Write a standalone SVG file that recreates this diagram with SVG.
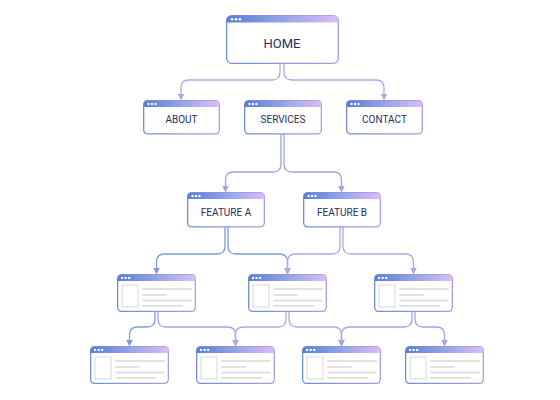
<svg xmlns="http://www.w3.org/2000/svg" xmlns:xlink="http://www.w3.org/1999/xlink" width="560" height="400" viewBox="0 0 560 400">
<style>
.lbl{font-family:Roboto,"Liberation Sans",sans-serif;font-size:10px;fill:#2b2e5c;text-anchor:middle}
.big{font-size:13px}
.box{fill:#fff;stroke:url(#bord);stroke-width:1.3}
.head{fill:url(#head)}
.dot{fill:#fff}
.img{fill:none;stroke:#dedede;stroke-width:1.2}
.ln{stroke:#e2e2e2;stroke-width:2;stroke-linecap:round}
.c{fill:none;stroke-width:1.3}
</style>
<defs>
<linearGradient id="bord" x1="0" y1="0" x2="1" y2="0">
<stop offset="0" stop-color="#6e8fd6"/><stop offset="1" stop-color="#ad9ce2"/>
</linearGradient>
<linearGradient id="head" x1="0" y1="0" x2="1" y2="0">
<stop offset="0" stop-color="#5a7dd6"/><stop offset="0.55" stop-color="#9ba7ea"/><stop offset="1" stop-color="#dcbcf2"/>
</linearGradient>
<marker id="aP" viewBox="0 0 7 7" markerWidth="7" markerHeight="7" refX="5.5" refY="3.5" orient="auto" markerUnits="userSpaceOnUse"><path d="M0 0 L7 3.5 L0 7 Z" fill="#b2a6e6"/></marker>
<marker id="aB" viewBox="0 0 7 7" markerWidth="7" markerHeight="7" refX="5.5" refY="3.5" orient="auto" markerUnits="userSpaceOnUse"><path d="M0 0 L7 3.5 L0 7 Z" fill="#7e9cdc"/></marker>
<marker id="aM" viewBox="0 0 7 7" markerWidth="7" markerHeight="7" refX="5.5" refY="3.5" orient="auto" markerUnits="userSpaceOnUse"><path d="M0 0 L7 3.5 L0 7 Z" fill="#9ea6e2"/></marker>
<g id="page-tpl">
<rect class="box" x="0.65" y="0.65" width="77.7" height="36.7" rx="4"/>
<path class="head" d="M0.65 7 V4.6 Q0.65 0.65 4.6 0.65 H74.4 Q78.35 0.65 78.35 4.6 V7 Z"/>
<circle class="dot" cx="5" cy="3.9" r="1.2"/><circle class="dot" cx="8.6" cy="3.9" r="1.2"/><circle class="dot" cx="12.2" cy="3.9" r="1.2"/>
<rect class="img" x="5" y="11" width="16" height="22"/>
<line class="ln" x1="26" y1="15" x2="74" y2="15"/>
<line class="ln" x1="26" y1="21" x2="49" y2="21"/>
<line class="ln" x1="26" y1="26.5" x2="74" y2="26.5"/>
<line class="ln" x1="26" y1="32" x2="65" y2="32"/>
</g>
</defs>
<rect width="560" height="400" fill="#fff"/>

<g id="connectors">
<path class="c" stroke="#b2a6e6" marker-end="url(#aP)" d="M280 63 V72 Q280 80 272 80 H189 Q181 80 181 88 V99"/>
<path class="c" stroke="#b2a6e6" marker-end="url(#aP)" d="M284 63 V72 Q284 80 292 80 H376 Q384 80 384 88 V99"/>
<path class="c" stroke="#9ea6e2" marker-end="url(#aM)" d="M281 134 V164 Q281 172 273 172 H233.5 Q225.5 172 225.5 180 V191"/>
<path class="c" stroke="#9ea6e2" marker-end="url(#aM)" d="M284 134 V164 Q284 172 292 172 H333.5 Q341.5 172 341.5 180 V191"/>
<path class="c" stroke="#7e9cdc" marker-end="url(#aB)" d="M225 227 V246 Q225 254 217 254 H164.5 Q156.5 254 156.5 262 V273"/>
<path class="c" stroke="#7e9cdc" marker-end="url(#aB)" d="M228 227 V246 Q228 254 236 254 H279.5 Q287.5 254 287.5 262 V273"/>
<path class="c" stroke="#b2a6e6" marker-end="url(#aP)" d="M340 227 V246 Q340 254 332 254 H295.5 Q287.5 254 287.5 262 V273"/>
<path class="c" stroke="#b2a6e6" marker-end="url(#aP)" d="M343 227 V246 Q343 254 351 254 H405.5 Q413.5 254 413.5 262 V273"/>
<path class="c" stroke="#7e9cdc" marker-end="url(#aB)" d="M155 312 V319 Q155 327 147 327 H137.5 Q129.5 327 129.5 335 V345"/>
<path class="c" stroke="#9ea6e2" marker-end="url(#aM)" d="M158 312 V319 Q158 327 166 327 H227.5 Q235.5 327 235.5 335 V345"/>
<path class="c" stroke="#b2a6e6" marker-end="url(#aP)" d="M286 312 V319 Q286 327 278 327 H243.5 Q235.5 327 235.5 335 V345"/>
<path class="c" stroke="#b2a6e6" marker-end="url(#aP)" d="M289 312 V319 Q289 327 297 327 H333.5 Q341.5 327 341.5 335 V345"/>
<path class="c" stroke="#9ea6e2" marker-end="url(#aM)" d="M412 312 V319 Q412 327 404 327 H349.5 Q341.5 327 341.5 335 V345"/>
<path class="c" stroke="#9ea6e2" marker-end="url(#aM)" d="M415 312 V319 Q415 327 423 327 H436.5 Q444.5 327 444.5 335 V345"/>
</g>

<g id="home">
<rect class="box" x="226.65" y="15.65" width="111.7" height="47.7" rx="5"/>
<path class="head" d="M226.65 22.5 V20.6 Q226.65 15.65 231.6 15.65 H333.4 Q338.35 15.65 338.35 20.6 V22.5 Z"/>
<circle class="dot" cx="232" cy="19.2" r="1.3"/><circle class="dot" cx="236" cy="19.2" r="1.3"/><circle class="dot" cx="240" cy="19.2" r="1.3"/>
<text class="lbl big" x="282" y="47.5">HOME</text>
</g>
<g id="about">
<rect class="box" x="143.65" y="100.65" width="75.7" height="33.2" rx="4"/>
<path class="head" d="M143.65 107 V104.6 Q143.65 100.65 147.6 100.65 H215.4 Q219.35 100.65 219.35 104.6 V107 Z"/>
<circle class="dot" cx="148.5" cy="104" r="1.2"/><circle class="dot" cx="152" cy="104" r="1.2"/><circle class="dot" cx="155.5" cy="104" r="1.2"/>
<text class="lbl" x="181.5" y="123">ABOUT</text>
</g>
<g id="services">
<rect class="box" x="244.65" y="100.65" width="76.7" height="33.2" rx="4"/>
<path class="head" d="M244.65 107 V104.6 Q244.65 100.65 248.6 100.65 H317.4 Q321.35 100.65 321.35 104.6 V107 Z"/>
<circle class="dot" cx="249.5" cy="104" r="1.2"/><circle class="dot" cx="253" cy="104" r="1.2"/><circle class="dot" cx="256.5" cy="104" r="1.2"/>
<text class="lbl" x="283" y="123">SERVICES</text>
</g>
<g id="contact">
<rect class="box" x="346.65" y="100.65" width="75.7" height="33.2" rx="4"/>
<path class="head" d="M346.65 107 V104.6 Q346.65 100.65 350.6 100.65 H418.4 Q422.35 100.65 422.35 104.6 V107 Z"/>
<circle class="dot" cx="351.5" cy="104" r="1.2"/><circle class="dot" cx="355" cy="104" r="1.2"/><circle class="dot" cx="358.5" cy="104" r="1.2"/>
<text class="lbl" x="384.5" y="123">CONTACT</text>
</g>
<g id="feature-a">
<rect class="box" x="187.65" y="192.65" width="76.7" height="34.2" rx="4"/>
<path class="head" d="M187.65 199 V196.6 Q187.65 192.65 191.6 192.65 H260.4 Q264.35 192.65 264.35 196.6 V199 Z"/>
<circle class="dot" cx="192.5" cy="196" r="1.2"/><circle class="dot" cx="196" cy="196" r="1.2"/><circle class="dot" cx="199.5" cy="196" r="1.2"/>
<text class="lbl" x="226" y="215.5">FEATURE A</text>
</g>
<g id="feature-b">
<rect class="box" x="303.65" y="192.65" width="76.7" height="34.2" rx="4"/>
<path class="head" d="M303.65 199 V196.6 Q303.65 192.65 307.6 192.65 H376.4 Q380.35 192.65 380.35 196.6 V199 Z"/>
<circle class="dot" cx="308.5" cy="196" r="1.2"/><circle class="dot" cx="312" cy="196" r="1.2"/><circle class="dot" cx="315.5" cy="196" r="1.2"/>
<text class="lbl" x="342" y="215.5">FEATURE B</text>
</g>
<g id="page-1"><use href="#page-tpl" x="117" y="274"/></g>
<g id="page-2"><use href="#page-tpl" x="248" y="274"/></g>
<g id="page-3"><use href="#page-tpl" x="374" y="274"/></g>
<g id="page-4"><use href="#page-tpl" x="90" y="346"/></g>
<g id="page-5"><use href="#page-tpl" x="196" y="346"/></g>
<g id="page-6"><use href="#page-tpl" x="302" y="346"/></g>
<g id="page-7"><use href="#page-tpl" x="405" y="346"/></g>
</svg>
